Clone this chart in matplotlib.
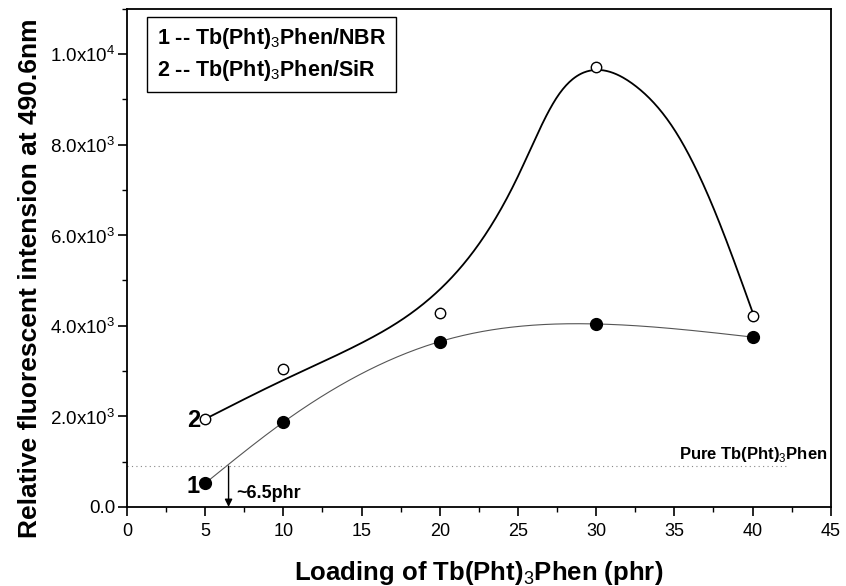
import numpy as np
import matplotlib
matplotlib.use("Agg")
import matplotlib.pyplot as plt
from matplotlib.ticker import MultipleLocator, FixedLocator

plt.rcParams['font.family'] = ['Liberation Sans', 'DejaVu Sans']
plt.rcParams['mathtext.fontset'] = 'custom'
plt.rcParams['mathtext.rm'] = 'Liberation Sans'
plt.rcParams['mathtext.bf'] = 'Liberation Sans:bold'

# measured points
loading = [5, 10, 20, 30, 40]
nbr = [520, 1870, 3650, 4040, 3750]        # series 1 (filled)
sir = [1940, 3050, 4290, 9720, 4220]       # series 2 (open)
# smoothed curve of series 2 as drawn in the figure
sir_curve_x = [5, 10, 15, 20, 25, 27.5, 30, 32.5, 35, 37.5, 40]
sir_curve_y = [1940, 2800, 3620, 4800, 7300, 9050, 9650, 9300, 8330, 6600, 4300]
pure_level = 900
threshold = 6.5

yticks = [0, 2000, 4000, 6000, 8000, 10000]
yticklabels = ['0.0', r'2.0x10$^{3}$', r'4.0x10$^{3}$', r'6.0x10$^{3}$',
               r'8.0x10$^{3}$', r'1.0x10$^{4}$']
xticks = [0, 5, 10, 15, 20, 25, 30, 35, 40, 45]


def natural_spline(x, y, xs):
    x = np.asarray(x, float); y = np.asarray(y, float)
    n = len(x); h = np.diff(x)
    A = np.zeros((n, n)); b = np.zeros(n)
    A[0, 0] = 1; A[-1, -1] = 1
    for i in range(1, n - 1):
        A[i, i - 1] = h[i - 1]
        A[i, i] = 2 * (h[i - 1] + h[i])
        A[i, i + 1] = h[i]
        b[i] = 3 * ((y[i + 1] - y[i]) / h[i] - (y[i] - y[i - 1]) / h[i - 1])
    c = np.linalg.solve(A, b)
    out = np.empty_like(xs)
    for k, xv in enumerate(xs):
        i = max(min(np.searchsorted(x, xv, side='right') - 1, n - 2), 0)
        dx = xv - x[i]
        bb = (y[i + 1] - y[i]) / h[i] - h[i] * (2 * c[i] + c[i + 1]) / 3
        d = (c[i + 1] - c[i]) / (3 * h[i])
        out[k] = y[i] + bb * dx + c[i] * dx ** 2 + d * dx ** 3
    return out


fig = plt.figure(figsize=(8.46, 5.86), dpi=100)
ax = fig.add_axes([0.150, 0.135, 0.832, 0.850])

xs2 = np.linspace(sir_curve_x[0], sir_curve_x[-1], 500)
ax.plot(xs2, natural_spline(sir_curve_x, sir_curve_y, xs2), color='black', lw=1.3, zorder=2)
xs1 = np.linspace(loading[0], loading[-1], 400)
ax.plot(xs1, natural_spline(loading, nbr, xs1), color='#555555', lw=0.8, zorder=2)

ax.plot(loading, sir, 'o', ms=7.5, mfc='white', mec='black', mew=1.0, zorder=3)
ax.plot(loading, nbr, 'o', ms=8.5, mfc='black', mec='black', zorder=3)

ax.plot([0, 42.2], [pure_level, pure_level], linestyle=(0, (1, 3)), color='#888888', lw=0.8)
ax.annotate('', xy=(threshold, 0), xytext=(threshold, pure_level),
            arrowprops=dict(arrowstyle='-|>', color='black', lw=1.0,
                            mutation_scale=11, shrinkA=0, shrinkB=0))
ax.text(7.0, 300, '~6.5phr', fontsize=13, fontweight='bold', va='center', ha='left')
ax.text(44.8, 1150, r'Pure Tb(Pht)$_{3}$Phen', fontsize=12, fontweight='bold',
        ha='right', va='center')
ax.text(4.67, 1900, '2', fontsize=17, fontweight='bold', ha='right', va='center')
ax.text(4.67, 440, '1', fontsize=17, fontweight='bold', ha='right', va='center')

ax.text(1.9, 9990, '1 -- Tb(Pht)$_{3}$Phen/NBR\n2 -- Tb(Pht)$_{3}$Phen/SiR',
        fontsize=15.5, fontweight='bold', ha='left', va='center', linespacing=1.35,
        bbox=dict(boxstyle='square,pad=0.45', fc='white', ec='black', lw=1.0))

ax.set_xlim(0, 45)
ax.set_ylim(0, 11000)
ax.xaxis.set_major_locator(FixedLocator(xticks))
ax.xaxis.set_minor_locator(MultipleLocator(2.5))
ax.yaxis.set_major_locator(FixedLocator(yticks))
ax.yaxis.set_minor_locator(MultipleLocator(1000))
ax.set_yticklabels(yticklabels)
ax.tick_params(axis='both', which='major', direction='out', length=6.5, width=1.2,
               colors='black')
ax.tick_params(axis='both', which='minor', direction='out', length=3.5, width=1.0)
ax.tick_params(axis='x', labelsize=13, pad=5)
ax.tick_params(axis='y', labelsize=13.5, pad=2)
for s in ax.spines.values():
    s.set_linewidth(1.3)

ax.set_xlabel(r'Loading of Tb(Pht)$_{3}$Phen (phr)', fontsize=18.5, fontweight='bold', labelpad=14)
fig.text(30 / 846, 1 - 278 / 586, 'Relative fluorescent intension at 490.6nm',
         fontsize=19, fontweight='bold', rotation=90, ha='center', va='center')

fig.savefig('out.png', dpi=100)
